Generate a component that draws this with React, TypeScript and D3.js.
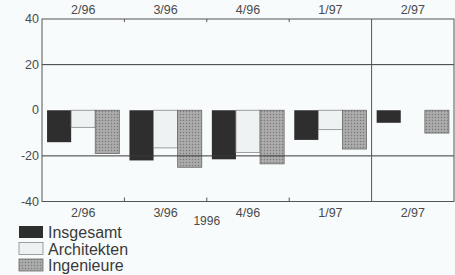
import { useRef, useEffect } from 'react';
import * as d3 from 'd3';

const periods = ['2/96', '3/96', '4/96', '1/97', '2/97'];
const seriesNames = ['Insgesamt', 'Architekten', 'Ingenieure'];
const insgesamt = [-14, -22, -21.5, -13, -5.5];
const architekten = [-7.5, -16.5, -18.5, -8.5, 0];
const ingenieure = [-19, -25, -23.5, -17, -10];
const yTicks = [-40, -20, 0, 20, 40];
const gridValues = [20, -20];
const yearLabel = '1996';

const values = [insgesamt, architekten, ingenieure];
const fills = ['#2e2e2e', '#eef2f3', 'url(#dots)'];
const strokes = ['none', '#888', '#6a6a6a'];

export default function App() {
  const svgRef = useRef<SVGSVGElement>(null);

  useEffect(() => {
    const svg = d3.select(svgRef.current);
    svg.selectAll('*').remove();

    const W = 455, H = 275;
    const left = 42, right = 454, top = 19, bottom = 201.5;

    svg.append('rect').attr('width', W).attr('height', H).attr('fill', '#f8fbfb');

    const defs = svg.append('defs');
    const pat = defs.append('pattern')
      .attr('id', 'dots')
      .attr('width', 3).attr('height', 3)
      .attr('patternUnits', 'userSpaceOnUse');
    pat.append('rect').attr('width', 3).attr('height', 3).attr('fill', '#a4a4a4');
    pat.append('rect').attr('x', 0).attr('y', 0).attr('width', 1).attr('height', 1).attr('fill', '#7a7a7a');
    pat.append('rect').attr('x', 1.5).attr('y', 1.5).attr('width', 1).attr('height', 1).attr('fill', '#c6c6c6');

    const x = d3.scaleBand().domain(periods).range([left, right]).padding(0);
    const xs = d3.scaleBand().domain(seriesNames).range([0, x.bandwidth()])
      .paddingInner(0).paddingOuter(0.21);
    const y = d3.scaleLinear().domain([-40, 40]).range([bottom, top]);

    const font = 'Liberation Sans, Arial, sans-serif';
    const textCol = '#4a4a4a';
    const lineCol = '#555';

    // bars
    seriesNames.forEach((s, si) => {
      svg.append('g').selectAll('rect')
        .data(periods.map((p, i) => ({ p, v: values[si][i] })).filter(d => d.v !== 0))
        .join('rect')
        .attr('x', d => (x(d.p) as number) + (xs(s) as number))
        .attr('y', d => y(Math.max(0, d.v)))
        .attr('width', xs.bandwidth())
        .attr('height', d => Math.abs(y(d.v) - y(0)))
        .attr('fill', fills[si])
        .attr('stroke', strokes[si])
        .attr('stroke-width', 0.8);
    });

    // grid lines
    gridValues.forEach(v => {
      svg.append('line')
        .attr('x1', left).attr('x2', right)
        .attr('y1', y(v)).attr('y2', y(v))
        .attr('stroke', '#3a3a3a').attr('stroke-width', 1);
    });

    // frame
    svg.append('rect')
      .attr('x', left).attr('y', top)
      .attr('width', right - left).attr('height', bottom - top)
      .attr('fill', 'none').attr('stroke', lineCol).attr('stroke-width', 1);

    // divider before 2/97
    const divX = x('2/97') as number;
    svg.append('line')
      .attr('x1', divX).attr('x2', divX).attr('y1', top).attr('y2', bottom)
      .attr('stroke', lineCol).attr('stroke-width', 1);

    // group boundary ticks
    periods.slice(1, 4).forEach(p => {
      const px = x(p) as number;
      svg.append('line').attr('x1', px).attr('x2', px).attr('y1', top).attr('y2', top + 3)
        .attr('stroke', lineCol);
      svg.append('line').attr('x1', px).attr('x2', px).attr('y1', bottom).attr('y2', bottom - 4)
        .attr('stroke', lineCol);
    });

    // y axis labels
    svg.append('g').selectAll('text')
      .data(yTicks)
      .join('text')
      .attr('x', left - 3)
      .attr('y', d => y(d) + 4)
      .attr('text-anchor', 'end')
      .attr('font-family', font).attr('font-size', 12.5)
      .attr('fill', textCol)
      .text(d => String(d));

    // top and bottom labels
    svg.append('g').selectAll('text')
      .data(periods)
      .join('text')
      .attr('x', d => (x(d) as number) + x.bandwidth() / 2)
      .attr('y', top - 5)
      .attr('text-anchor', 'middle')
      .attr('font-family', font).attr('font-size', 12.5)
      .attr('fill', textCol)
      .text(d => d);

    svg.append('g').selectAll('text')
      .data(periods)
      .join('text')
      .attr('x', d => (x(d) as number) + x.bandwidth() / 2)
      .attr('y', bottom + 15)
      .attr('text-anchor', 'middle')
      .attr('font-family', font).attr('font-size', 12.5)
      .attr('fill', textCol)
      .text(d => d);

    svg.append('text')
      .attr('x', x('4/96') as number)
      .attr('y', bottom + 23)
      .attr('text-anchor', 'middle')
      .attr('font-family', font).attr('font-size', 12)
      .attr('fill', textCol)
      .text(yearLabel);

    // legend
    const lg = svg.append('g').attr('transform', 'translate(19,226)');
    seriesNames.forEach((s, i) => {
      const row = lg.append('g').attr('transform', `translate(0,${i * 16.5})`);
      row.append('rect')
        .attr('width', 24).attr('height', 12)
        .attr('fill', fills[i])
        .attr('stroke', strokes[i]).attr('stroke-width', 0.8);
      row.append('text')
        .attr('x', 29).attr('y', 12)
        .attr('font-family', font).attr('font-size', 16)
        .attr('fill', '#3a3a3a')
        .text(s);
    });
  }, []);

  return (
    <svg ref={svgRef} width={455} height={275}
      style={{ position: 'absolute', left: 0, top: 0, display: 'block' }} />
  );
}
